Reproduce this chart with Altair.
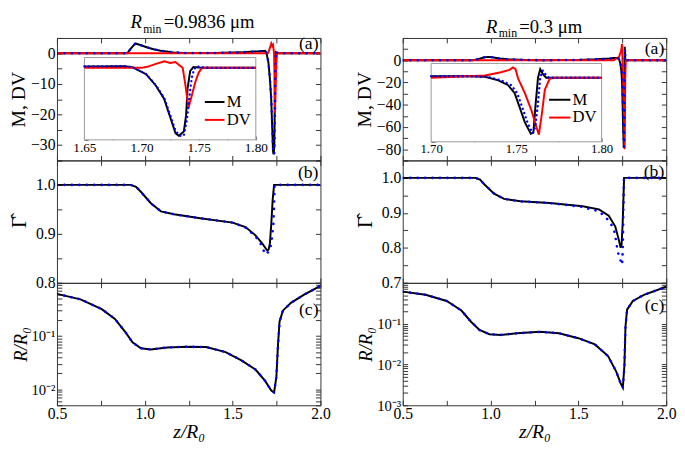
import altair as alt
import pandas as pd

FONT = "Liberation Serif"
W, H = 269, 125
TK = 5
BLACK, RED, BLUE = "#000000", "#ff0000", "#0000ff"

# ================= DATA =================
# ---- left column: R_min = 0.9836 um ----
L_TITLE = "=0.9836 \u03bcm"
L_M_z = [0.5, 0.9, 0.92, 0.946, 0.97, 1.015, 1.05, 1.09, 1.164, 1.25, 1.4, 1.55, 1.62, 1.65, 1.66, 1.685, 1.692,
         1.704, 1.7126, 1.7197, 1.7254, 1.7297, 1.7326, 1.737, 1.739, 1.7403, 1.7426, 1.7454, 1.75, 1.76, 1.8, 2.0]
L_M_v = [0, 0, 1.5, 3.2, 2.8, 1.9, 1.3, 0.85, 0.3, 0.05, 0.1, 0.3, 0.55, 0.65, 0.7, 0.8, 0.3,
         -3.1, -8.7, -15, -24.5, -31.7, -33, -31, -23, -10, -1.5, 0.4, 0.2, 0, 0, 0]
L_DV_z = [0.5, 1.65, 1.70, 1.705, 1.712, 1.72, 1.725, 1.7297, 1.7326, 1.736, 1.7383, 1.7411, 1.744, 1.747,
          1.75, 1.753, 1.8, 2.0]
L_DV_v = [0, 0, 0, 0.5, 1.8, 3.2, 2.4, 2.8, 1.5, 0, -8, -19.4, -13.4, -7, -2.3, 0, 0, 0]
L_D_z = [0.5, 0.9, 0.92, 0.946, 0.97, 1.015, 1.05, 1.09, 1.164, 1.25, 1.4, 1.55, 1.62, 1.65, 1.66, 1.685, 1.692,
         1.704, 1.7126, 1.7197, 1.7254, 1.7297, 1.7334, 1.7369, 1.7397, 1.7411, 1.7426, 1.744, 1.746, 1.7483,
         1.752, 1.76, 1.8, 2.0]
L_D_v = [0, 0, 1.5, 3.2, 2.8, 1.9, 1.3, 0.85, 0.3, 0.05, 0.1, 0.3, 0.55, 0.65, 0.7, 0.8, 0.3,
         -3, -8.5, -14.5, -23.5, -30.5, -33, -33, -25.3, -18.2, -11, -4.7, -0.7, 0.8, 0.2, 0, 0, 0]
L_G_z = [0.5, 0.92, 0.95, 0.98, 1.036, 1.092, 1.166, 1.315, 1.5, 1.573, 1.63, 1.667, 1.697, 1.705, 1.712,
         1.72, 1.728, 1.736, 2.0]
L_G_v = [1.0, 1.0, 0.996, 0.985, 0.962, 0.946, 0.94, 0.932, 0.923, 0.914, 0.897, 0.881, 0.866, 0.868, 0.88,
         0.92, 0.97, 1.0, 1.0]
L_GD_z = [0.5, 0.92, 0.95, 0.98, 1.036, 1.092, 1.166, 1.315, 1.5, 1.573, 1.63, 1.667, 1.684, 1.70, 1.712,
          1.721, 1.727, 1.732, 1.736, 1.739, 2.0]
L_GD_v = [1.0, 1.0, 0.996, 0.985, 0.962, 0.946, 0.94, 0.932, 0.923, 0.913, 0.895, 0.876, 0.858, 0.862, 0.866,
          0.883, 0.902, 0.92, 0.96, 1.0, 1.0]
L_R_z = [0.5, 0.634, 0.755, 0.83, 0.886, 0.93, 0.978, 1.034, 1.127, 1.24, 1.35, 1.46, 1.55, 1.63, 1.684,
         1.72, 1.736, 1.749, 1.758, 1.767, 1.786, 1.832, 1.907, 2.0]
L_R_v = [0.62, 0.49, 0.32, 0.21, 0.123, 0.076, 0.059, 0.056, 0.061, 0.063, 0.062, 0.05, 0.035, 0.0235, 0.0145,
         0.0095, 0.0087, 0.017, 0.066, 0.186, 0.30, 0.42, 0.60, 0.88]

# ---- right column: R_min = 0.3 um ----
R_TITLE = "=0.3 \u03bcm"
R_M_z = [0.5, 0.9, 0.93, 0.96, 0.985, 1.01, 1.05, 1.1, 1.2, 1.3, 1.5, 1.6, 1.68, 1.70, 1.72, 1.7317, 1.7394,
         1.7452, 1.749, 1.752, 1.755, 1.7585, 1.76, 1.7612, 1.7627, 1.764, 1.7656, 1.7675, 1.8, 2.0]
R_M_v = [0, 0, 1.0, 2.5, 3.0, 2.6, 1.6, 0.8, 0.2, 0, 0.3, 0.8, 1.5, 2.0, 2.0, 1.2, -3.7,
         -10.5, -21.8, -42, -62.8, -78.7, -77, -40, 0, 12, 5, 0, 0, 0]
R_DV_z = [0.5, 1.70, 1.7317, 1.741, 1.746, 1.748, 1.7495, 1.751, 1.755, 1.759, 1.7618, 1.7632, 1.7648, 1.7667,
          1.7696, 1.772, 1.8, 2.0]
R_DV_v = [0, 0, 3, 7.6, 11, 14.5, 12, -1, -21.8, -47, -69.6, -80, -53.7, -17, -1.4, 0, 0, 0]
R_D_z = [0.5, 0.9, 0.93, 0.96, 0.985, 1.01, 1.05, 1.1, 1.2, 1.3, 1.5, 1.6, 1.68, 1.70, 1.72, 1.733, 1.741,
         1.747, 1.7505, 1.7535, 1.7565, 1.7595, 1.761, 1.7625, 1.764, 1.7655, 1.767, 1.769, 1.8, 2.0]
R_D_v = [0, 0, 1.0, 2.5, 3.0, 2.6, 1.6, 0.8, 0.2, 0, 0.3, 0.8, 1.5, 2.0, 2.0, 1.2, -3.7,
         -10.5, -21.8, -42, -62.8, -78, -70, -40, 0, 10, 5, 0, 0, 0]
R_G_z = [0.5, 0.914, 0.94, 0.964, 1.02, 1.077, 1.17, 1.337, 1.524, 1.617, 1.673, 1.71, 1.729, 1.7406, 1.746,
         1.752, 1.757, 1.76, 2.0]
R_G_v = [1.0, 1.0, 0.995, 0.982, 0.955, 0.94, 0.933, 0.928, 0.919, 0.91, 0.892, 0.861, 0.825, 0.80, 0.81,
         0.87, 0.95, 1.0, 1.0]
R_GD_z = [0.5, 0.914, 0.94, 0.964, 1.02, 1.077, 1.17, 1.337, 1.524, 1.57, 1.617, 1.673, 1.70, 1.71, 1.725,
          1.734, 1.743, 1.749, 1.753, 1.756, 1.759, 2.0]
R_GD_v = [1.0, 1.0, 0.995, 0.982, 0.955, 0.94, 0.933, 0.928, 0.917, 0.91, 0.905, 0.878, 0.856, 0.834, 0.785,
          0.78, 0.755, 0.752, 0.8, 0.9, 1.0, 1.0]
R_R_z = [0.5, 0.63, 0.75, 0.834, 0.89, 0.937, 0.993, 1.058, 1.15, 1.28, 1.39, 1.5, 1.594, 1.669, 1.716, 1.74,
         1.753, 1.762, 1.768, 1.777, 1.81, 1.873, 2.0]
R_R_v = [0.61, 0.51, 0.36, 0.21, 0.11, 0.07, 0.055, 0.053, 0.058, 0.063, 0.058, 0.044, 0.031, 0.016, 0.0066,
         0.0035, 0.0027, 0.0095, 0.083, 0.22, 0.36, 0.51, 0.8]

LEGEND_NAMES = ["M", "DV"]
PANEL_LABELS = ["(a)", "(b)", "(c)"]


def frame(z, v):
    return pd.DataFrame({"z": z, "v": v})


XS = alt.Scale(domain=[0.5, 2.0], nice=False, zero=False)
XT = [0.5, 0.75, 1.0, 1.25, 1.5, 1.75, 2.0]


def ax(orient, values, **kw):
    base = dict(orient=orient, offset=-TK, tickSize=TK, tickWidth=1, tickColor="#333333", domain=False,
                grid=False, values=values, labelFlush=False, labelOverlap=False, labelFont=FONT,
                titleFont=FONT, labelFontSize=16, labelColor="black", titleColor="black",
                titleFontWeight="normal")
    base.update(kw)
    return alt.Axis(**base)


def series_layer(items, xs, ys, xax, yax):
    layers = []
    for d, color, dotted in items:
        mk = dict(color=color, strokeWidth=2, clip=True)
        if dotted:
            mk.update(strokeDash=[0.1, 7.5], strokeCap="round", strokeWidth=2.6)
        c = alt.Chart(d).mark_line(**mk).encode(
            x=alt.X("z:Q", scale=xs, axis=xax),
            y=alt.Y("v:Q", scale=ys, axis=yax),
        )
        layers.append(c)
    return alt.layer(*layers)


def text_mark(txt, x, y, size, align="left", style="normal", baseline="alphabetic"):
    return alt.Chart(pd.DataFrame({"t": [txt]})).mark_text(
        align=align, baseline=baseline, fontSize=size, font=FONT, fontStyle=style, color="black"
    ).encode(x=alt.value(x), y=alt.value(y), text="t:N")


def panel(items, ys, yaxis, xaxis, mirror_yvals, extras):
    main = series_layer(items, XS, ys, xaxis, yaxis)
    mir = alt.Chart(items[0][0]).mark_point(opacity=0).encode(
        x=alt.X("z:Q", scale=XS, axis=ax("top", XT, labels=False, title=None)),
        y=alt.Y("v:Q", scale=ys, axis=ax("right", mirror_yvals, labels=False, title=None)),
    )
    return alt.layer(main, mir, *extras).resolve_scale(
        x="independent", y="independent").resolve_axis(x="independent", y="independent").properties(
        width=W, height=H)


def inset(items, xdom, ydom, xr, yr, xt, xlab, yt, ylab, fs, leg_z, leg_v):
    xs = alt.Scale(domain=xdom, range=xr, nice=False, zero=False)
    ys = alt.Scale(domain=ydom, range=yr, nice=False, zero=False)
    box_df = pd.DataFrame({"z": [xdom[0]], "z2": [xdom[1]], "v": [ydom[0]], "v2": [ydom[1]]})
    common = dict(tickSize=4, tickColor="#555555", domain=False, grid=False, labelFontSize=fs, title=None,
                  labelFlush=False, labelOverlap=False, labelFont=FONT, labelColor="black")
    xaxis = alt.Axis(orient="bottom", offset=yr[0] - H - 4, values=xt, labelExpr=xlab, labelPadding=1, **common)
    yaxis = alt.Axis(orient="left", offset=-(xr[0] + 4), values=yt, labelExpr=ylab, labelPadding=2, **common)
    box = alt.Chart(box_df).mark_rect(fill="white", stroke="#999999", strokeWidth=1).encode(
        x=alt.X("z:Q", scale=xs, axis=xaxis), x2="z2:Q",
        y=alt.Y("v:Q", scale=ys, axis=yaxis), y2="v2:Q")
    filt = alt.FieldRangePredicate(field="z", range=list(xdom))
    lines = []
    for d, color, dotted in items:
        mk = dict(color=color, strokeWidth=2)
        if dotted:
            mk.update(strokeDash=[0.1, 4.5], strokeCap="round", strokeWidth=2.4)
        lines.append(alt.Chart(d).transform_filter(filt).mark_line(**mk).encode(x="z:Q", y="v:Q"))
    leg_df = pd.DataFrame({"name": LEGEND_NAMES, "c": [BLACK, RED], "z1": [leg_z[0]] * 2,
                           "z2": [leg_z[1]] * 2, "zt": [leg_z[2]] * 2, "v": leg_v})
    rules = alt.Chart(leg_df).mark_rule(strokeWidth=2).encode(
        x="z1:Q", x2="z2:Q", y="v:Q", color=alt.Color("c:N", scale=None))
    texts = alt.Chart(leg_df).mark_text(align="left", baseline="middle", fontSize=17, font=FONT).encode(
        x="zt:Q", y="v:Q", text="name:N")
    return alt.layer(box, *lines, rules, texts)


LBL10 = "datum.value % 10 == 0 ? format(datum.value, 'd') : ''"
LBL20 = "(datum.value % 20 == 0 && datum.value <= 0) ? format(datum.value, 'd') : ''"
LBL01 = "abs(datum.value*10 - round(datum.value*10)) < 0.001 ? format(datum.value, '.1f') : ''"
LBLX = "datum.value % 0.5 == 0 ? format(datum.value, '.1f') : ''"
LBLLOG = ("datum.value == 0.1 ? '10\u207b\u00b9' : (datum.value == 0.01 ? '10\u207b\u00b2' : "
          "(datum.value == 0.001 ? '10\u207b\u00b3' : ''))")
LBLI = "abs(datum.value*20 - round(datum.value*20)) < 0.001 ? format(datum.value, '.2f') : ''"


def logticks(lo_exp):
    vals = []
    for e in range(lo_exp, 0):
        for k in range(1, 10):
            vals.append(round(k * 10 ** e, 8))
    vals.append(1.0)
    return vals


def column(M, DV, D, G, GD, R, ydom_a, yt_a, ylab_a, ydom_b, yt_b, ydom_c, ylo_exp, inset_spec, title_spec,
           lab_y):
    # (a)
    ys_a = alt.Scale(domain=ydom_a, nice=False, zero=False)
    ya = ax("left", yt_a, labelExpr=ylab_a, title="M, DV", titleFontSize=20, titlePadding=2, labelPadding=2)
    xa = ax("bottom", XT, labels=False, title=None)
    items_a = [(M, BLACK, False), (DV, RED, False), (D, BLUE, True)]
    ins = inset(items_a, **inset_spec)
    trest, tx, ty = title_spec
    extras_a = [ins,
                text_mark("R", tx[0], ty[0], 19, style="italic"),
                text_mark("min", tx[1], ty[1], 12),
                text_mark(trest, tx[2], ty[0], 19),
                text_mark(PANEL_LABELS[0], W - 2, lab_y[0], 18, align="right", baseline="middle")]
    pa = panel(items_a, ys_a, ya, xa, yt_a, extras_a)
    # (b)
    ys_b = alt.Scale(domain=ydom_b, nice=False, zero=False)
    yb = ax("left", yt_b, labelExpr=LBL01, title="\u0393\u0302", titleFontSize=21, titlePadding=6,
            labelPadding=2)
    items_b = [(G, BLACK, False), (GD, BLUE, True)]
    pb = panel(items_b, ys_b, yb, xa, yt_b,
               [text_mark(PANEL_LABELS[1], W - 2, lab_y[1], 18, align="right", baseline="middle")])
    # (c)
    yt_c = logticks(ylo_exp)
    ys_c = alt.Scale(type="log", domain=ydom_c, nice=False)
    yc = ax("left", yt_c, labelExpr=LBLLOG, title="R/R\u2080", titleFontSize=19, titleFontStyle="italic",
            titlePadding=1, labelPadding=2, labelFontSize=15)
    xc = ax("bottom", XT, labelExpr=LBLX, labelPadding=1, title="z/R\u2080", titleFontSize=20,
            titleFontStyle="italic", titlePadding=0)
    items_c = [(R, BLACK, False), (R, BLUE, True)]
    pc = panel(items_c, ys_c, yc, xc, yt_c,
               [text_mark(PANEL_LABELS[2], W - 2, lab_y[2], 18, align="right", baseline="middle")])
    return pa, pb, pc


la, lb, lc = column(
    frame(L_M_z, L_M_v), frame(L_DV_z, L_DV_v), frame(L_D_z, L_D_v),
    frame(L_G_z, L_G_v), frame(L_GD_z, L_GD_v), frame(L_R_z, L_R_v),
    [-35, 5], list(range(-35, 6, 5)), LBL10,
    [0.8, 1.05], [0.8, 0.85, 0.9, 0.95, 1.0, 1.05],
    [0.005, 1.0], -3,
    dict(xdom=[1.65, 1.80], ydom=[-35, 5], xr=[28, 203], yr=[104, 20],
         xt=[1.65, 1.675, 1.70, 1.725, 1.75, 1.775, 1.80], xlab=LBLI,
         yt=list(range(-35, 6, 5)), ylab=LBL10, fs=13.5,
         leg_z=[1.7554, 1.7726, 1.7745], leg_v=[-16.6, -25.3]),
    (L_TITLE, [75, 88, 109], [-10, -5]),
    [6, 13, 28],
)

ra, rb, rc = column(
    frame(R_M_z, R_M_v), frame(R_DV_z, R_DV_v), frame(R_D_z, R_D_v),
    frame(R_G_z, R_G_v), frame(R_GD_z, R_GD_v), frame(R_R_z, R_R_v),
    [-90, 20], list(range(-90, 21, 10)), LBL20,
    [0.7, 1.05], [0.7, 0.75, 0.8, 0.85, 0.9, 0.95, 1.0, 1.05],
    [0.001, 1.0], -3,
    dict(xdom=[1.70, 1.80], ydom=[-90, 20], xr=[29, 203], yr=[106, 26],
         xt=[1.70, 1.725, 1.75, 1.775, 1.80], xlab=LBLI,
         yt=list(range(-90, 21, 10)), ylab=LBL20, fs=13,
         leg_z=[1.7692, 1.7817, 1.783], leg_v=[-31, -56]),
    (R_TITLE, [85, 98, 119], [-5, -1]),
    [11, 12, 24],
)

chart = alt.concat(
    la, ra, lb, rb, lc, rc, columns=2, spacing={"row": 0, "column": 84}, bounds="flush"
).resolve_scale(
    x="independent", y="independent"
).configure(font=FONT).configure_view(stroke="#333333", strokeWidth=1).configure_axis(
    labelFont=FONT, titleFont=FONT, labelFontSize=16, labelColor="black", titleColor="black",
    titleFontWeight="normal", grid=False
).configure_text(font=FONT).properties(
    padding={"left": 0, "top": 0, "right": 0, "bottom": 0}, background="white"
)

chart.save("out.html", embed_options={"renderer": "svg", "actions": False})
